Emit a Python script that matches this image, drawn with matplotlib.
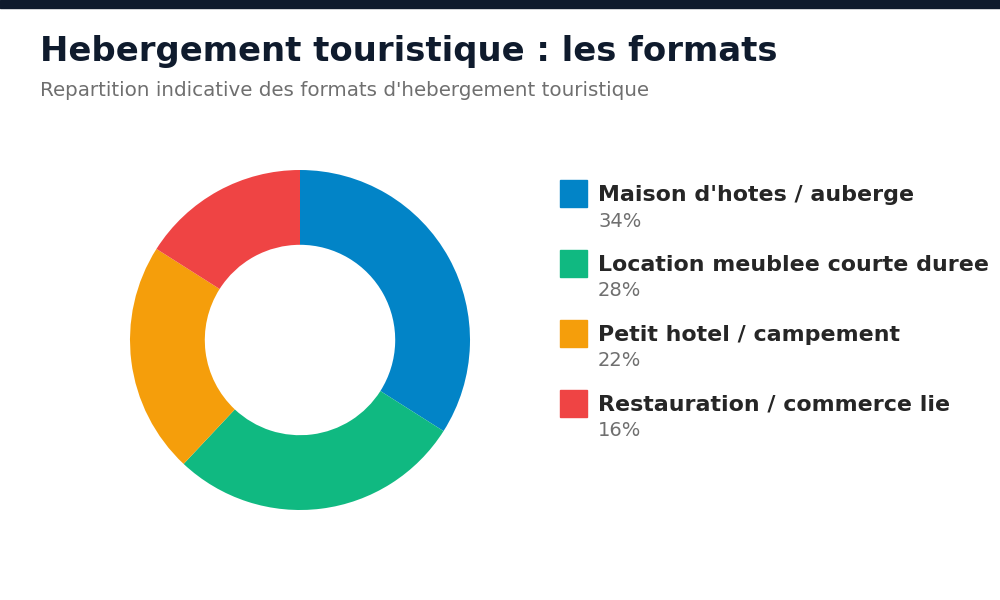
import matplotlib.pyplot as plt
from matplotlib.patches import Rectangle

plt.rcParams['font.family'] = ['DejaVu Sans']

# data
labels = ["Maison d'hotes / auberge", "Location meublee courte duree",
          "Petit hotel / campement", "Restauration / commerce lie"]
shares = [34, 28, 22, 16]
colors = ["#0284c7", "#10b981", "#f59e0b", "#ef4444"]

title = "Hebergement touristique : les formats"
subtitle = "Repartition indicative des formats d'hebergement touristique"

W, H = 1000, 600
fig = plt.figure(figsize=(10, 6), dpi=100)
fig.patch.set_facecolor("white")

# top bar
fig.patches.append(Rectangle((0, 1 - 8 / H), 1, 8 / H, transform=fig.transFigure,
                             color="#0f1b2d", zorder=0))

fig.text(40 / W, 1 - 51 / H, title, fontsize=24.4, fontweight="bold",
         color="#0f1b2d", va="center", ha="left")
fig.text(40 / W, 1 - 91 / H, subtitle, fontsize=14.3, color="#6f6f6f",
         va="center", ha="left")

# donut
cx, cy, r = 300, 340, 170
ax = fig.add_axes([(cx - r) / W, 1 - (cy + r) / H, 2 * r / W, 2 * r / H])
ax.pie(shares, colors=colors, startangle=90, counterclock=False, radius=1,
       wedgeprops=dict(width=0.44, edgecolor="none"))
ax.set_xlim(-1, 1)
ax.set_ylim(-1, 1)
ax.set_aspect("equal")
ax.axis("off")

# legend
for i, (lab, val, col) in enumerate(zip(labels, shares, colors)):
    top = 180 + i * 70
    fig.patches.append(Rectangle((560 / W, 1 - (top + 27) / H), 27 / W, 27 / H,
                                 transform=fig.transFigure, color=col))
    fig.text(598 / W, 1 - (top + 15) / H, lab, fontsize=15.9, fontweight="bold",
             color="#262626", va="center", ha="left")
    fig.text(598 / W, 1 - (top + 41) / H, f"{val}%", fontsize=14,
             color="#6f6f6f", va="center", ha="left")

fig.savefig("out.png", dpi=100)
